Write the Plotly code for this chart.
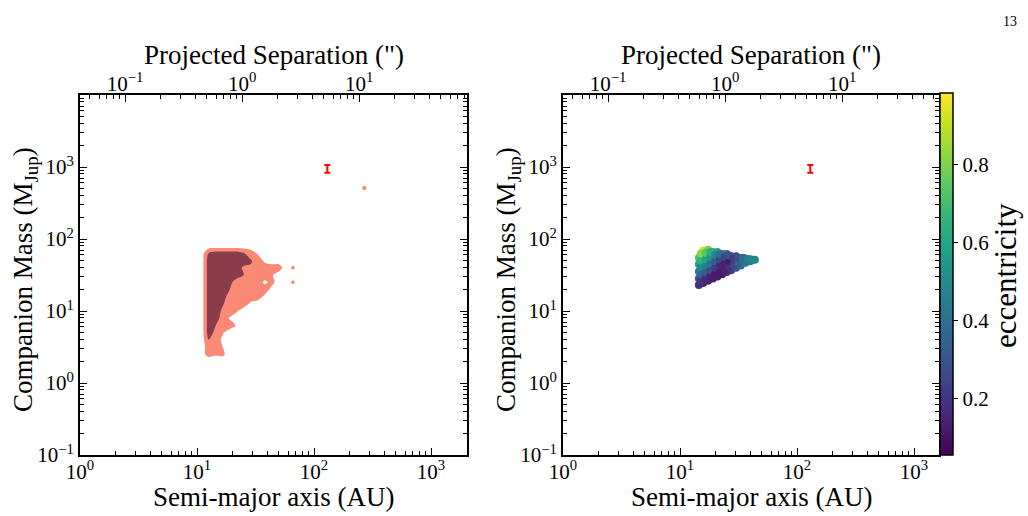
import plotly.graph_objects as go
import numpy as np

# ---------------- data ----------------
DIST_PC = 24.3  # AU per arcsec (projected separation conversion)

# posterior density levels on a (log a, log M) grid: 0 = outside, 1 = 2-sigma, 2 = 1-sigma
grid_log_a = [0.98, 1.04, 1.10, 1.16, 1.22, 1.28, 1.34, 1.40, 1.46, 1.52, 1.58, 1.64, 1.70, 1.76, 1.82, 1.88]
grid_log_m = [2.0, 1.9, 1.8, 1.7, 1.6, 1.5, 1.4, 1.3, 1.2, 1.1, 1.0, 0.9, 0.8, 0.7, 0.6, 0.5, 0.4, 0.3, 0.2]
density_rows = [
    [0, 0, 0,   0,   0,   0,   0,   0,   0,   0,   0,   0,   0, 0, 0,   0],
    [0, 0, 0,   0,   0,   0,   0,   0,   0,   0,   0,   0,   0, 0, 0,   0],
    [0, 0, 1.6, 2,   2,   2,   2,   1.6, 1,   0.4, 0,   0,   0, 0, 0,   0],
    [0, 0, 2,   2,   2,   2,   2,   2,   1.6, 1,   0.3, 0,   0, 0, 0,   0],
    [0, 0, 2,   2,   2,   2,   2,   1.3, 1.4, 1,   1,   1,   1, 0, 0.7, 0],
    [0, 0, 2,   2,   2,   2,   2,   1.5, 1,   1,   1,   0.6, 0, 0, 0,   0],
    [0, 0, 2,   2,   2,   1.8, 1,   1,   1,   1,   0.3, 0.8, 0, 0, 0.7, 0],
    [0, 0, 2,   2,   2,   1.5, 1,   1,   1,   1,   1,   0.2, 0, 0, 0,   0],
    [0, 0, 2,   2,   2,   1,   1,   1,   1,   1,   0.3, 0,   0, 0, 0,   0],
    [0, 0, 2,   2,   1.6, 1,   1,   1,   0.3, 0,   0,   0,   0, 0, 0,   0],
    [0, 0, 2,   2,   1.3, 1,   0.6, 0,   0,   0,   0,   0,   0, 0, 0,   0],
    [0, 0, 2,   2,   1,   0.4, 0,   0,   0,   0,   0,   0,   0, 0, 0,   0],
    [0, 0, 2,   1.5, 1,   1,   0.4, 0,   0,   0,   0,   0,   0, 0, 0,   0],
    [0, 0, 2,   1.2, 0.6, 0,   0,   0,   0,   0,   0,   0,   0, 0, 0,   0],
    [0, 0, 1.5, 1,   0.3, 0,   0,   0,   0,   0,   0,   0,   0, 0, 0,   0],
    [0, 0, 1,   1,   0.5, 0,   0,   0,   0,   0,   0,   0,   0, 0, 0,   0],
    [0, 0.2, 0.8, 0.6, 0.7, 0, 0,   0,   0,   0,   0,   0,   0, 0, 0,   0],
    [0, 0, 0,   0,   0,   0,   0,   0,   0,   0,   0,   0,   0, 0, 0,   0],
    [0, 0, 0,   0,   0,   0,   0,   0,   0,   0,   0,   0,   0, 0, 0,   0],
]
# small isolated island of posterior mass
speck_a = [240, 270, 300]
speck_m = [420, 510, 620]
speck_z = [[0, 0, 0], [0, 0.8, 0], [0, 0, 0]]

# orbit-fit samples (right panel)
orbit_a = [14.5, 14.5, 14.5, 14.5, 14.5,
           15.8, 15.8, 15.8, 15.8, 15.8, 15.8,
           17.4, 17.4, 17.4, 17.4, 17.4, 17.4,
           19.1, 19.1, 19.1, 19.1, 19.1,
           20.9, 20.9, 20.9, 20.9, 20.9,
           22.9, 22.9, 22.9, 22.9,
           25.1, 25.1, 25.1, 25.1,
           27.5, 27.5, 27.5,
           30.2, 30.2, 30.2,
           33.1, 33.1,
           36.3, 36.3,
           39.8, 39.8,
           43.7,
           # interleaved samples
           15.1, 15.1, 15.1, 15.1, 15.1,
           16.6, 16.6, 16.6, 16.6, 16.6,
           18.2, 18.2, 18.2, 18.2, 18.2,
           20.0, 20.0, 20.0, 20.0,
           21.9, 21.9, 21.9, 21.9,
           24.0, 24.0, 24.0,
           26.3, 26.3, 26.3,
           28.8, 28.8,
           31.6, 31.6,
           34.7, 34.7,
           38.0,
           41.7]
orbit_m = [22.9, 28.2, 35.5, 44.7, 55.0,
           24.5, 30.2, 37.2, 45.7, 56.2, 69.2,
           26.3, 32.4, 39.8, 49.0, 60.3, 70.8,
           28.2, 34.7, 42.7, 52.5, 66.1,
           30.2, 37.2, 45.7, 56.2, 66.1,
           32.4, 39.8, 49.0, 61.7,
           34.7, 42.7, 52.5, 61.7,
           37.2, 45.7, 57.5,
           39.8, 47.9, 57.5,
           42.7, 52.5,
           46.8, 53.7,
           49.0, 52.5,
           51.3,
           26.3, 32.4, 40.7, 50.1, 63.1,
           28.2, 34.7, 42.7, 52.5, 64.6,
           30.2, 37.2, 45.7, 56.2, 66.1,
           32.4, 39.8, 49.0, 60.3,
           34.7, 42.7, 52.5, 61.7,
           37.2, 45.7, 56.2,
           40.7, 49.0, 58.9,
           43.7, 53.7,
           46.8, 55.0,
           50.1, 55.0,
           52.5,
           51.3]
orbit_e = [0.18, 0.30, 0.45, 0.60, 0.72,
           0.15, 0.30, 0.45, 0.62, 0.76, 0.93,
           0.15, 0.28, 0.42, 0.58, 0.70, 0.80,
           0.13, 0.25, 0.40, 0.55, 0.68,
           0.12, 0.22, 0.35, 0.50, 0.60,
           0.12, 0.18, 0.28, 0.45,
           0.15, 0.15, 0.20, 0.35,
           0.20, 0.12, 0.25,
           0.30, 0.20, 0.30,
           0.38, 0.30,
           0.42, 0.38,
           0.45, 0.45,
           0.50,
           0.20, 0.35, 0.50, 0.66, 0.82,
           0.16, 0.32, 0.46, 0.60, 0.74,
           0.14, 0.27, 0.40, 0.54, 0.64,
           0.12, 0.22, 0.32, 0.50,
           0.12, 0.16, 0.25, 0.40,
           0.14, 0.14, 0.25,
           0.18, 0.12, 0.28,
           0.25, 0.22,
           0.34, 0.28,
           0.40, 0.38,
           0.44,
           0.48]
ecc_range = [0.054, 0.985]

# measured companion (red error bar)
comp_a = [130]
comp_m = [930]
comp_m_plus = [140]
comp_m_minus = [100]

# axis ticks
x_ticks = [1, 10, 100, 1000]
x_ticktext = ["10<sup>0</sup>", "10<sup>1</sup>", "10<sup>2</sup>", "10<sup>3</sup>"]
y_ticks = [0.1, 1, 10, 100, 1000]
y_ticktext = ["10<sup>\u22121</sup>", "10<sup>0</sup>", "10<sup>1</sup>", "10<sup>2</sup>", "10<sup>3</sup>"]
sep_ticks = [0.1, 1, 10]
sep_ticktext = ["10<sup>\u22121</sup>", "10<sup>0</sup>", "10<sup>1</sup>"]
ecc_ticks = [0.2, 0.4, 0.6, 0.8]

SALMON = "rgb(250,138,118)"
DARK = "rgb(137,60,74)"
FONT = "Liberation Serif"

# ---------------- figure ----------------
W, H = 1028, 516
def fx(px):
    return px / W
def fy(py):
    return 1 - py / H

def minor_vals(kmin, kmax):
    return [m * 10.0 ** k for k in range(kmin, kmax + 1) for m in range(2, 10)]

fig = go.Figure()

z = density_rows[::-1]
ca = [10 ** v for v in grid_log_a]
cm = [10 ** v for v in grid_log_m[::-1]]
for level, col in [(0.5, SALMON), (1.5, DARK)]:
    fig.add_trace(go.Contour(
        x=ca, y=cm, z=z, xaxis="x", yaxis="y",
        contours=dict(type="constraint", operation="<", value=level),
        fillcolor=col, line=dict(width=0, color=col, smoothing=0.8),
        showscale=False, hoverinfo="skip"))
fig.add_trace(go.Contour(
    x=speck_a, y=speck_m, z=speck_z, xaxis="x", yaxis="y",
    contours=dict(type="constraint", operation="<", value=0.5),
    fillcolor=SALMON, line=dict(width=0, color=SALMON),
    showscale=False, hoverinfo="skip"))

fig.add_trace(go.Scatter(
    x=orbit_a, y=orbit_m, mode="markers", xaxis="x2", yaxis="y2",
    marker=dict(size=8, color=orbit_e, colorscale="Viridis",
                cmin=ecc_range[0], cmax=ecc_range[1], line=dict(width=0),
                colorbar=dict(
                    x=fx(940), xanchor="left", y=fy(455), yanchor="bottom",
                    len=(455 - 93) / H, lenmode="fraction", thickness=13,
                    thicknessmode="pixels", xpad=0, ypad=0,
                    outlinewidth=1.5, outlinecolor="black",
                    tickvals=ecc_ticks, ticks="outside", ticklen=5,
                    tickwidth=1.2, tickcolor="black",
                    tickfont=dict(family=FONT, size=21, color="black"))),
    showlegend=False, hoverinfo="skip"))

for xa, ya in [("x", "y"), ("x2", "y2")]:
    fig.add_trace(go.Scatter(
        x=comp_a, y=comp_m, mode="markers", xaxis=xa, yaxis=ya,
        marker=dict(size=1, color="red", opacity=0),
        error_y=dict(type="data", array=comp_m_plus, arrayminus=comp_m_minus,
                     color="red", thickness=2, width=3),
        showlegend=False, hoverinfo="skip"))

# invisible traces so the top (projected separation) axes are drawn
for xa, ya in [("x3", "y"), ("x4", "y2")]:
    fig.add_trace(go.Scatter(x=[1], y=[1], mode="markers", xaxis=xa, yaxis=ya,
                             marker=dict(opacity=0), showlegend=False, hoverinfo="skip"))

tickfont = dict(family=FONT, size=21, color="black")
titlefont = dict(family=FONT, size=27, color="black")
common = dict(type="log", ticks="inside", ticklen=7, tickwidth=1.3, tickcolor="black",
              showline=True, linewidth=2, linecolor="black", showgrid=False,
              zeroline=False, tickfont=tickfont, tickmode="array", automargin=False)

lx0, lx1 = 80, 467
rx0, rx1 = 563, 939
y0, y1 = 455, 95
dec = 117.0
off = np.log10(DIST_PC)
lxr = (lx1 - lx0) / dec
rxr = (rx1 - rx0) / dec

layout = dict(
    width=W, height=H, margin=dict(l=0, r=0, t=0, b=0, autoexpand=False),
    paper_bgcolor="white", plot_bgcolor="white", showlegend=False,
    font=dict(family=FONT, color="black"),
)
annotations = []
for i, (x0, x1, xr) in enumerate([(lx0, lx1, lxr), (rx0, rx1, rxr)]):
    sfx = "" if i == 0 else "2"
    top = "3" if i == 0 else "4"
    layout["xaxis" + sfx] = dict(common, domain=[fx(x0), fx(x1)], anchor="y" + sfx,
                                  range=[0, xr], tickvals=x_ticks, ticktext=x_ticktext,
                                  ticklabelstandoff=-3,
                                  minor=dict(ticks="inside", ticklen=4, tickwidth=1, tickcolor="black",
                                             tickmode="array", tickvals=minor_vals(0, 3)))
    layout["yaxis" + sfx] = dict(common, domain=[fy(y0), fy(y1)], anchor="x" + sfx,
                                  range=[-1, (y0 - y1) / 72.0 - 1], tickvals=y_ticks, ticktext=y_ticktext,
                                  mirror="ticks",
                                  minor=dict(ticks="inside", ticklen=4, tickwidth=1, tickcolor="black",
                                             tickmode="array", tickvals=minor_vals(-1, 3)))
    layout["xaxis" + top] = dict(common, overlaying="x" + sfx, side="top", anchor="y" + sfx,
                                  range=[-off, xr - off], tickvals=sep_ticks, ticktext=sep_ticktext,
                                  ticklabelstandoff=-6,
                                  minor=dict(ticks="inside", ticklen=4, tickwidth=1, tickcolor="black",
                                             tickmode="array", tickvals=minor_vals(-2, 1)))
    cx = (x0 + x1) / 2
    annotations += [
        dict(text="Semi-major axis (AU)", x=fx(cx), y=fy(497)),
        dict(text="Projected Separation (\")", x=fx(cx), y=fy(55)),
        dict(text="Companion Mass (M<sub>Jup</sub>)", x=fx(x0 - 55), y=fy(280), textangle=-90),
    ]
annotations.append(dict(text="eccentricity", x=fx(1005), y=fy(276), textangle=-90,
                        font=dict(family=FONT, size=31, color="black")))
annotations.append(dict(text="13", x=fx(1010), y=fy(22), font=dict(family=FONT, size=14, color="black")))
for a in annotations:
    a.setdefault("font", titlefont)
    a.update(xref="paper", yref="paper", showarrow=False, xanchor="center", yanchor="middle")
layout["annotations"] = annotations
fig.update_layout(**layout)

fig.write_html("out.html")
